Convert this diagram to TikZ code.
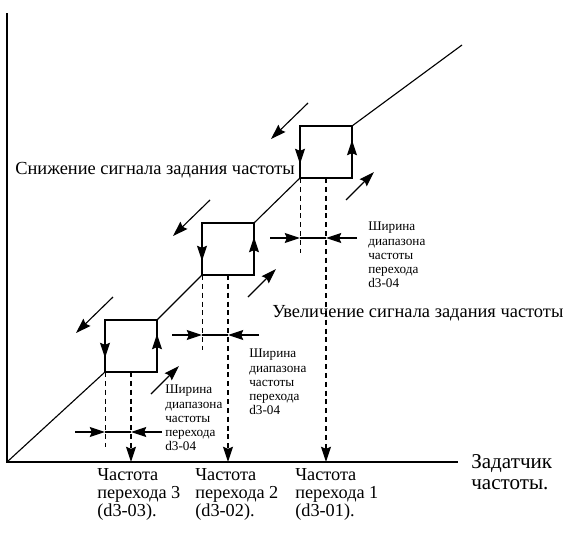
\documentclass[tikz,border=0pt]{standalone}
\usepackage{fontspec}
\setmainfont{Liberation Serif}
\usetikzlibrary{arrows.meta}
\tikzset{
  axisline/.style={line width=0.9pt},
  curve/.style={line width=0.8pt},
  guide/.style={dash pattern=on 3.5pt off 2.8pt, line width=0.7pt},
  arrow/.style={-{Stealth[length=3.8mm,width=2.5mm,inset=0.5mm]}, line width=0.8pt},
  widthlbl/.style={font=\fontsize{9.4}{10}\selectfont, align=left, anchor=north west, inner sep=0pt},
  freqlbl/.style={font=\fontsize{13}{12.9}\selectfont, align=left, anchor=north west, inner sep=0pt},
  biglbl/.style={font=\fontsize{13.1}{15}\selectfont, anchor=west, inner sep=0pt}
}
\begin{document}
\begin{tikzpicture}[x=0.025cm, y=-0.025cm]
  \useasboundingbox (0,0) rectangle (566,552);
  \coordinate (O) at (7,462);
  \coordinate (ytop) at (7,13);
  \coordinate (xend) at (458,462);
  \draw[axisline] (ytop) -- (O) -- (xend);

  % hysteresis characteristic
  \draw[curve] (O) -- (105,372);
  \draw[curve] (157,320) -- (202,275);
  \draw[curve] (254,223) -- (300,178);
  \draw[curve] (352,126) -- (462,45);

  \foreach \a/\t in {105/320, 202/223, 300/126} {
    \draw[curve] (\a,\t) rectangle (\a+52,\t+52);
    \draw[arrow] (\a,\t+8) -- (\a,\t+38);
    \draw[arrow] (\a+52,\t+44) -- (\a+52,\t+14);
    \draw[guide] (\a,\t+52) -- (\a,\t+127);
    \draw[guide, arrow] (\a+26,\t+52) -- (\a+26,462);
    \draw[arrow] (\a-30,\t+112) -- (\a,\t+112);
    \draw[curve] (\a,\t+112) -- (\a+26,\t+112);
    \draw[arrow] (\a+57,\t+112) -- (\a+26,\t+112);
    \draw[arrow] (\a+8,\t-23) -- (\a-29,\t+13);
    \draw[arrow] (\a+46,\t+74) -- (\a+74,\t+46);
  }

  \node[biglbl] (dec) at (15,170) {Снижение сигнала задания частоты};
  \node[biglbl] (inc) at (272,313) {Увеличение сигнала задания частоты};

  \node[widthlbl] (w3) at (368,222) {Ширина\\диапазона\\частоты\\перехода\\d3-04};
  \node[widthlbl] (w2) at (249,349) {Ширина\\диапазона\\частоты\\перехода\\d3-04};
  \node[widthlbl] (w1) at (165,385) {Ширина\\диапазона\\частоты\\перехода\\d3-04};

  \node[freqlbl] (f3) at (97,468) {Частота\\перехода 3\\(d3-03).};
  \node[freqlbl] (f2) at (195,468) {Частота\\перехода 2\\(d3-02).};
  \node[freqlbl] (f1) at (295,468) {Частота\\перехода 1\\(d3-01).};

  \node[font=\fontsize{15}{15}\selectfont, align=left, anchor=west, inner sep=0pt]
    (src) at (471,472) {Задатчик\\частоты.};
\end{tikzpicture}
\end{document}
